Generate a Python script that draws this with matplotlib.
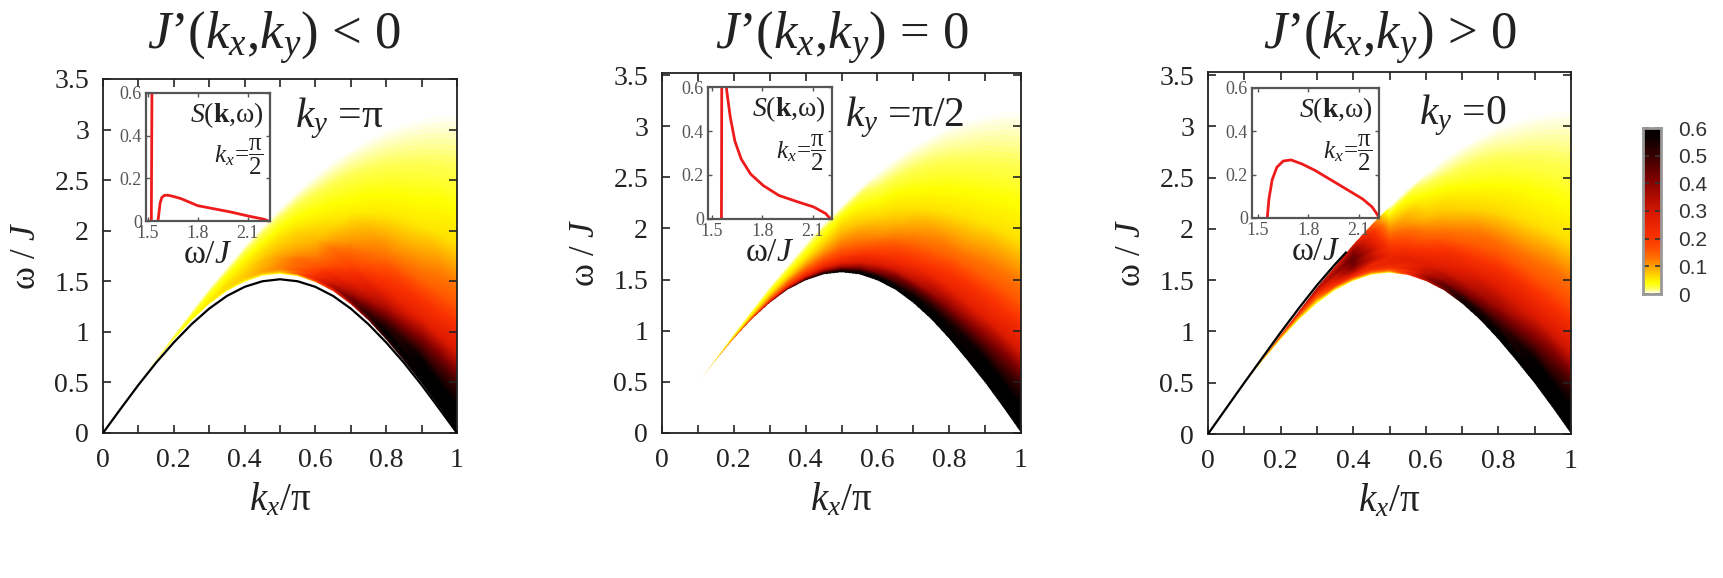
import numpy as np
import matplotlib
matplotlib.use("Agg")
import matplotlib.pyplot as plt
import matplotlib.tri as mtri
from matplotlib.colors import LinearSegmentedColormap
from matplotlib.ticker import MultipleLocator

plt.rcParams['font.family'] = ['Liberation Serif', 'DejaVu Serif']
plt.rcParams['mathtext.fontset'] = 'custom'
plt.rcParams['mathtext.rm'] = 'Liberation Serif'
plt.rcParams['mathtext.it'] = 'Liberation Serif:italic'
plt.rcParams['mathtext.bf'] = 'Liberation Serif:bold'

# ---------------- data ----------------
titles = ["$J$’$(k_x$,$k_y)$ < 0", "$J$’$(k_x$,$k_y)$ = 0", "$J$’$(k_x$,$k_y)$ > 0"]
ky_labels = ["$k_y$ =π", "$k_y$ =π/2", "$k_y$ =0"]

# continuum boundaries (omega/J) vs kx/pi
kx_edge = [0.00, 0.05, 0.10, 0.15, 0.20, 0.25, 0.30, 0.35, 0.40, 0.45, 0.50,
           0.55, 0.60, 0.65, 0.70, 0.75, 0.80, 0.85, 0.90, 0.95, 1.00]
omega_low = [0.00, 0.25, 0.49, 0.71, 0.92, 1.11, 1.27, 1.40, 1.49, 1.55, 1.57,
             1.55, 1.49, 1.40, 1.27, 1.11, 0.92, 0.71, 0.49, 0.25, 0.00]
omega_up = [0.00, 0.25, 0.49, 0.73, 0.97, 1.20, 1.43, 1.64, 1.85, 2.04, 2.22,
            2.39, 2.54, 2.68, 2.80, 2.90, 2.99, 3.05, 3.10, 3.13, 3.14]

# bound state below the continuum (J'<0 panel)
bound_low = [0.00, 0.24, 0.475, 0.695, 0.895, 1.075, 1.23, 1.355, 1.445, 1.50, 1.52,
             1.50, 1.445, 1.355, 1.23, 1.075, 0.895, 0.695, 0.475, 0.24, 0.00]
# anti-bound state above the continuum (J'>0 panel)
kx_anti = [0.00, 0.05, 0.10, 0.15, 0.20, 0.25, 0.30, 0.35, 0.38]
bound_up = [0.00, 0.25, 0.50, 0.745, 0.99, 1.225, 1.45, 1.655, 1.77]

# intensity S(k,w): rows = kx_tab, columns = fraction across continuum (t_frac)
kx_tab = [0.0, 0.1, 0.2, 0.3, 0.4, 0.5, 0.6, 0.7, 0.8, 0.9, 1.0]
t_frac = [0.0, 0.03, 0.08, 0.15, 0.25, 0.40, 0.60, 0.80, 1.00]

S_neg = [
    [0, 0, 0, 0, 0, 0, 0, 0, 0],
    [0, 0.005, 0.01, 0.015, 0.015, 0.015, 0.01, 0.005, 0],
    [0, 0.015, 0.03, 0.035, 0.035, 0.03, 0.025, 0.015, 0],
    [0, 0.025, 0.05, 0.055, 0.05, 0.045, 0.035, 0.02, 0],
    [0, 0.04, 0.07, 0.075, 0.07, 0.06, 0.045, 0.025, 0],
    [0, 0.08, 0.12, 0.115, 0.105, 0.08, 0.055, 0.028, 0],
    [0.10, 0.25, 0.20, 0.16, 0.12, 0.085, 0.05, 0.025, 0],
    [0.30, 0.45, 0.35, 0.26, 0.18, 0.11, 0.05, 0.025, 0],
    [0.50, 0.60, 0.50, 0.36, 0.23, 0.13, 0.055, 0.025, 0],
    [0.60, 0.60, 0.60, 0.45, 0.26, 0.14, 0.055, 0.025, 0],
    [0.60, 0.60, 0.60, 0.50, 0.30, 0.16, 0.06, 0.025, 0],
]
S_zero = [
    [0, 0, 0, 0, 0, 0, 0, 0, 0],
    [0.15, 0.12, 0.10, 0.08, 0.06, 0.04, 0.03, 0.015, 0],
    [0.40, 0.30, 0.22, 0.15, 0.10, 0.07, 0.04, 0.02, 0],
    [0.50, 0.42, 0.30, 0.20, 0.14, 0.09, 0.05, 0.025, 0],
    [0.60, 0.50, 0.34, 0.24, 0.17, 0.11, 0.06, 0.03, 0],
    [0.60, 0.55, 0.38, 0.26, 0.19, 0.13, 0.085, 0.05, 0],
    [0.60, 0.60, 0.42, 0.29, 0.20, 0.12, 0.065, 0.03, 0],
    [0.60, 0.60, 0.50, 0.33, 0.22, 0.13, 0.06, 0.028, 0],
    [0.60, 0.60, 0.55, 0.40, 0.25, 0.14, 0.058, 0.026, 0],
    [0.60, 0.60, 0.60, 0.45, 0.27, 0.15, 0.058, 0.025, 0],
    [0.60, 0.60, 0.60, 0.50, 0.30, 0.16, 0.06, 0.025, 0],
]
S_pos = [
    [0, 0, 0, 0, 0, 0, 0, 0, 0],
    [0, 0.01, 0.02, 0.03, 0.04, 0.05, 0.07, 0.10, 0.15],
    [0, 0.01, 0.03, 0.05, 0.07, 0.10, 0.14, 0.20, 0.30],
    [0, 0.02, 0.04, 0.07, 0.10, 0.15, 0.22, 0.30, 0.40],
    [0, 0.06, 0.14, 0.24, 0.34, 0.42, 0.45, 0.40, 0.30],
    [0, 0.12, 0.21, 0.255, 0.25, 0.20, 0.13, 0.07, 0],
    [0.30, 0.38, 0.32, 0.28, 0.23, 0.15, 0.08, 0.04, 0],
    [0.55, 0.55, 0.42, 0.32, 0.25, 0.15, 0.07, 0.03, 0],
    [0.60, 0.60, 0.50, 0.38, 0.28, 0.16, 0.065, 0.028, 0],
    [0.60, 0.60, 0.60, 0.45, 0.29, 0.16, 0.06, 0.026, 0],
    [0.60, 0.60, 0.60, 0.50, 0.31, 0.17, 0.06, 0.025, 0],
]
S_tables = [S_neg, S_zero, S_pos]

# inset curves S(k,w) at kx = pi/2
ins_peak_w = [1.522, 1.526]
ins_peak_s = [0.0, 0.65]
ins1_w = [1.562, 1.568, 1.575, 1.585, 1.600, 1.620, 1.650, 1.700, 1.800, 1.900, 2.000, 2.100, 2.200, 2.225]
ins1_s = [0.0, 0.04, 0.085, 0.11, 0.12, 0.121, 0.116, 0.105, 0.072, 0.057, 0.042, 0.024, 0.008, 0.0]
ins2_w = [1.556, 1.558, 1.580, 1.588, 1.608, 1.636, 1.674, 1.730, 1.805, 1.898, 2.010, 2.104, 2.176, 2.206]
ins2_s = [0.0, 0.65, 0.65, 0.58, 0.466, 0.354, 0.272, 0.204, 0.152, 0.107, 0.078, 0.055, 0.025, 0.0]
ins3_w = [1.555, 1.565, 1.584, 1.612, 1.650, 1.697, 1.763, 1.839, 1.934, 2.029, 2.123, 2.180, 2.212, 2.220]
ins3_s = [0.0, 0.088, 0.176, 0.234, 0.263, 0.268, 0.249, 0.220, 0.176, 0.132, 0.088, 0.051, 0.015, 0.0]
ins_xlims = [(1.49, 2.235), (1.476, 2.214), (1.464, 2.221)]

# colour scale
cb_ticks = [0, 0.1, 0.2, 0.3, 0.4, 0.5, 0.6]
cmap_vals = [0.0, 0.02, 0.04, 0.07, 0.10, 0.13, 0.17, 0.21, 0.28, 0.35, 0.42, 0.50, 0.56, 0.60]
cmap_cols = ['#fffff4', '#ffff50', '#ffff00', '#ffd000', '#ffa000', '#ff7000', '#ff4a00',
             '#f83000', '#e01c00', '#b00c00', '#7a0000', '#3a0000', '#100000', '#000000']

# ---------------- figure ----------------
W, H = 1723, 578
fig = plt.figure(figsize=(W / 100, H / 100), dpi=100)

def fr(x0, y0, x1, y1):
    return [x0 / W, 1 - y1 / H, (x1 - x0) / W, (y1 - y0) / H]

main_boxes = [fr(103, 79, 457, 433), fr(662, 73, 1021, 433), fr(1208, 72, 1571, 434)]
ins_boxes = [fr(146, 93, 270, 221), fr(708, 87, 832, 219), fr(1252, 88, 1379, 218)]
ky_pos = [(0.542, 0.89), (0.51, 0.878), (0.581, 0.881)]
ymax = [3.5, 3.52, 3.53]

cmap = LinearSegmentedColormap.from_list(
    'sk', list(zip(np.array(cmap_vals) / 0.6, cmap_cols)))
cmap.set_bad((1, 1, 1, 0))

tk, tt = np.meshgrid(kx_tab, t_frac, indexing='ij')
tri = mtri.Triangulation(tk.ravel(), tt.ravel())

ins_curves = [(ins1_w, ins1_s), (ins2_w, ins2_s), (ins3_w, ins3_s)]

for p in range(3):
    ax = fig.add_axes(main_boxes[p])
    nk, nw = 900, 900
    kk = (np.arange(nk) + 0.5) / nk
    ww = (np.arange(nw) + 0.5) / nw * ymax[p]
    KX, WW = np.meshgrid(kk, ww)
    lo = np.interp(kk, kx_edge, omega_low)[None, :]
    up = np.interp(kk, kx_edge, omega_up)[None, :]
    T = (WW - lo) / np.maximum(up - lo, 1e-9)
    interp = mtri.LinearTriInterpolator(tri, np.array(S_tables[p]).ravel())
    Z = interp(KX, np.clip(T, 0, 1))
    Z = np.ma.masked_where((T < 0) | (T > 1) | np.ma.getmaskarray(Z), Z)
    ax.imshow(Z, origin='lower', extent=[0, 1, 0, ymax[p]], aspect='auto',
              cmap=cmap, vmin=0, vmax=0.6, interpolation='antialiased', zorder=1)
    if p == 0:
        ax.plot(kx_edge, bound_low, color='black', lw=1.6, zorder=3)
    if p == 2:
        ax.plot(kx_anti, bound_up, color='black', lw=1.6, zorder=3)
    ax.set_xlim(0, 1)
    ax.set_ylim(0, ymax[p])
    ax.xaxis.set_minor_locator(MultipleLocator(0.1))
    ax.set_xticks([0, 0.2, 0.4, 0.6, 0.8, 1.0])
    ax.set_xticklabels(['0', '0.2', '0.4', '0.6', '0.8', '1'])
    ax.set_yticks([0, 0.5, 1, 1.5, 2, 2.5, 3, 3.5])
    ax.set_yticklabels(['0', '0.5', '1', '1.5', '2', '2.5', '3', '3.5'])
    ax.tick_params(which='both', direction='in', top=True, right=True,
                   length=6, width=1.2, colors='#222222')
    ax.tick_params(axis='both', which='major', labelsize=20, labelcolor='#222222')
    ax.tick_params(axis='x', pad=11)
    ax.tick_params(axis='y', pad=10)
    for s in ax.spines.values():
        s.set_linewidth(1.3)
        s.set_color('#222222')
    ax.set_xlabel('$k_x$/π', fontsize=28, labelpad=6, color='#222222')
    ax.set_ylabel('ω / $J$', fontsize=25, labelpad=8, color='#222222')
    ax.text(ky_pos[p][0], ky_pos[p][1], ky_labels[p], transform=ax.transAxes,
            fontsize=30, ha='left', va='center', color='#222222', zorder=5)
    b = main_boxes[p]
    fig.text(b[0] + b[2] / 2 - (6 / W if p == 0 else 0), 1 - 38 / H, titles[p],
             fontsize=38, ha='center', va='center', color='#222222')

    # inset
    ia = fig.add_axes(ins_boxes[p])
    ia.set_facecolor('white')
    ia.set_zorder(10)
    if p == 0:
        ia.plot(ins_peak_w, ins_peak_s, color='#ee1b1b', lw=2)
    ia.plot(ins_curves[p][0], ins_curves[p][1], color='#ee1b1b', lw=2)
    ia.set_xlim(*ins_xlims[p])
    ia.set_ylim(0, 0.6)
    ia.set_xticks([1.5, 1.8, 2.1])
    ia.set_xticklabels(['1.5', '1.8', '2.1'])
    ia.set_yticks([0, 0.2, 0.4, 0.6])
    ia.set_yticklabels(['0', '0.2', '0.4', '0.6'])
    ia.tick_params(which='both', direction='in', top=True, right=True,
                   length=3, width=1.0, colors='#555555', labelsize=13, pad=3)
    for s in ia.spines.values():
        s.set_linewidth(1.6)
        s.set_color('#555555')
    ia.set_xlabel('ω/$J$', fontsize=24, labelpad=-2, color='#222222')
    ia.text(0.95, 0.83, r'$S($$\mathbf{k}$,ω)', transform=ia.transAxes,
            fontsize=20, ha='right', va='center', color='#222222')
    ia.text(0.95, 0.50, r'$k_x\!=\!\dfrac{\mathrm{\pi}}{2}$', transform=ia.transAxes,
            fontsize=18, ha='right', va='center', color='#222222')

# colour bar
cax = fig.add_axes(fr(1643, 128, 1661, 294))
grad = np.linspace(0, 0.6, 256)[:, None]
cax.imshow(grad, origin='lower', extent=[0, 1, 0, 0.6], aspect='auto',
           cmap=cmap, vmin=0, vmax=0.6)
cax.set_xlim(0, 1)
cax.set_ylim(0, 0.6)
cax.set_xticks([])
cax.set_yticks(cb_ticks)
cax.set_yticklabels(['0', '0.1', '0.2', '0.3', '0.4', '0.5', '0.6'],
                    fontfamily='Liberation Sans')
cax.yaxis.tick_right()
cax.tick_params(axis='y', direction='in', left=True, right=True, length=4,
                width=1.2, colors='#333333', labelsize=15, pad=12)
for s in cax.spines.values():
    s.set_linewidth(2)
    s.set_color('#999999')

fig.savefig('out.png', dpi=100, facecolor='white')
